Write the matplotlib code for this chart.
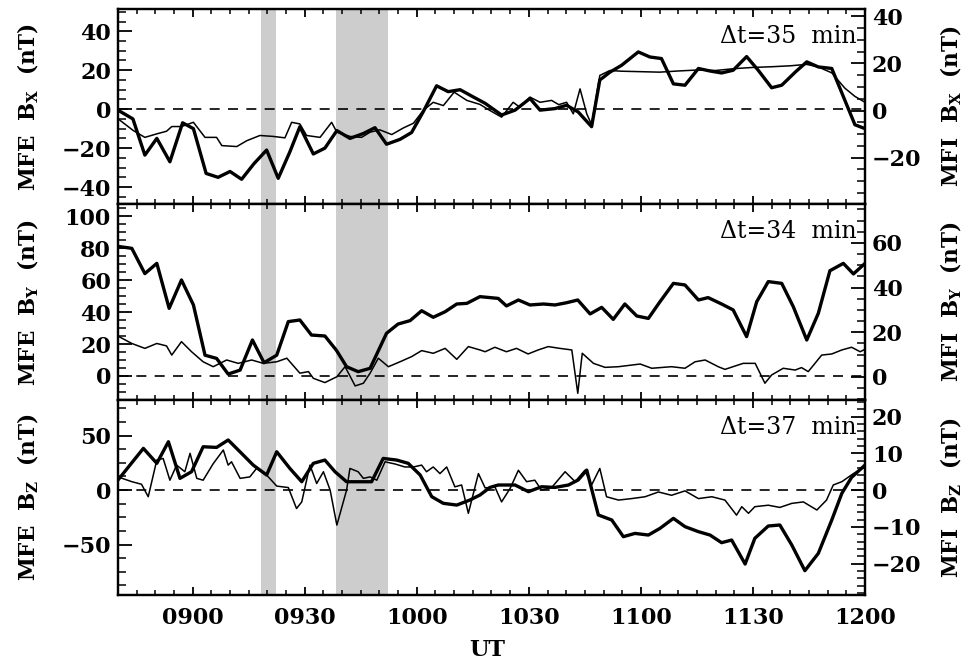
import matplotlib
matplotlib.use('Agg')
import matplotlib.pyplot as plt
import numpy as np
from matplotlib.ticker import MultipleLocator, FuncFormatter

plt.rcParams['font.family'] = 'DejaVu Serif'
plt.rcParams['mathtext.fontset'] = 'dejavuserif'

START = 520  # 08:40 UT in minutes
END = 720    # 12:00 UT

# minutes after 08:40 UT
bx_mfe_t = [0, 4, 7.2, 10.4, 13.9, 17.3, 20.2, 23.6, 26.8, 30, 33.1, 36.4, 39.8, 42.9, 46, 48.7,
            52.3, 55.4, 58.6, 62.1, 65.7, 68.8, 71.9, 75.5, 78.6, 81.7, 85.3, 88.4, 91.6, 95.1,
            98.3, 102.7, 106.3, 110.3, 113, 117, 120.1, 123.2, 126.8, 129, 131.7, 134.8, 139.3,
            142.4, 145.5, 148.7, 151.8, 155.4, 158.5, 161.6, 164.7, 168.3, 171.4, 175, 177.7,
            181.3, 184.4, 187.5, 191.1, 194.6, 197.3, 200]
bx_mfe = [-0.5, -5, -23.6, -15, -27, -7, -10, -33, -35, -32, -36, -28, -21, -35.5, -22, -9,
          -23, -20, -11, -15, -12.5, -9.5, -18, -15.5, -12, -1.4, 12, 9, 10, 6.3,
          3, -3, -0.5, 5.5, -0.5, 0.3, 2, -1.4, -9, 15, 19, 22.5, 29.4,
          26.8, 26, 13, 12.3, 20.9, 19.6, 18.6, 20, 27, 20, 11, 12.3,
          19, 24.3, 21.7, 20.9, 4.6, -8, -10]

bx_mfi_t = [0, 4.1, 7.2, 10.4, 13, 14.4, 17, 20.2, 23.3, 26.4, 27.8, 31.8, 34.5, 38, 41.6, 44.7,
            46.5, 48.7, 50.5, 54.1, 57.2, 58.6, 62.1, 65.2, 67.5, 70.1, 73.3, 76.4, 79.1, 81.7,
            84.4, 87.1, 90, 93.4, 96.9, 99.6, 102.7, 105.8, 107.6, 110.3, 113, 116.1, 118, 120.1,
            121.9, 123.7, 125.5, 126.8, 129, 131.7, 134.8, 140, 145, 150, 155, 160, 165, 170,
            175, 180, 184.4, 187.5, 191.1, 194.6, 197.3, 200]
bx_mfi = [-3.5, -8.5, -11.4, -9.9, -8.8, -6.8, -6.8, -5, -11.4, -11.4, -14.9, -15.3, -12.8, -10.6, -11, -11.6,
          -5, -5.7, -10.6, -11.4, -5, -9.2, -11, -11.4, -9.2, -8.2, -10.2, -7.4, -5.4, 0,
          3.5, 2.1, 7.8, 4.3, 2.6, 0, -2.8, 3.5, 1.4, 5.7, 3.5, 4.3, 2.5, 3.5,
          -1.4, 9.2, -1.4, -6, 14.9, 17, 16.7, 16.5, 16.3, 16.8, 17.2, 17, 17.8, 18.3,
          18.6, 19, 19.6, 18.5, 16, 9.5, 6, 3.5]

by_mfe_t = [0, 3.7, 7.2, 10.4, 13.7, 17, 20.2, 23.3, 26.4, 29.5, 32.7, 36, 39.1, 42.5, 45.6, 48.7,
            51.8, 55.4, 58.5, 61.2, 64.3, 67.5, 71.9, 75, 78.2, 81.3, 84.4, 87.6, 90.7, 93.4,
            96.9, 99.6, 101.8, 104, 107.2, 110.3, 113.9, 117, 120.1, 123.1, 126.4, 129.5, 132.6,
            135.7, 138.9, 142, 145.1, 148.7, 151.8, 155.4, 158, 161.6, 164.7, 168.3, 171, 174.1,
            177.7, 180.8, 184.4, 187.5, 190.6, 194.2, 196.9, 200]
by_mfe = [81, 79.8, 64, 70.4, 42.3, 60, 44.4, 13, 11, 1.2, 3.7, 22.5, 8.3, 13, 34, 35,
          25.6, 25, 16, 5.8, 2.7, 4.8, 26.7, 32.5, 34.6, 40.8, 36.7, 40.2, 45, 45.4,
          49.6, 49, 48.5, 43.8, 47.5, 44.4, 45, 44.4, 45.8, 47.5, 38.8, 42.9, 35.4,
          45, 37.5, 36, 46.4, 57.9, 56.9, 47.5, 49, 45, 41.3, 24.6, 46.4, 59,
          57.9, 43.3, 22.5, 39.2, 65.8, 70.4, 63.8, 70.4]

by_mfi_t = [0, 3.7, 7.2, 10.4, 13, 14.4, 17, 19.7, 22.8, 25.5, 29.1, 32.2, 35.8, 38.9, 42.5, 45.2,
            48.7, 51, 52.3, 55.4, 58.6, 60.8, 63.5, 65.7, 67.5, 69.7, 72.4, 75.5, 78.6, 81.3,
            84.4, 87.6, 90.7, 93.8, 96.9, 98.3, 100.9, 104, 106.7, 109.8, 112.5, 115.2, 118.3,
            121.5, 123.1, 124.3, 127.3, 130.4, 134, 139.8, 142.9, 148.2, 151.8, 154.5, 157.2,
            160.7, 162.5, 165.2, 167.4, 170.6, 173.2, 175, 178.1, 181.3, 183, 184.8, 188.4,
            191.1, 193.8, 196.4, 198.7, 200]
by_mfi = [18.3, 15, 12.8, 15, 13.9, 9.8, 15.8, 11.3, 6.8, 4.6, 7.6, 6.1, 7.6, 6.1, 6.8, 8.4,
          1.7, 2.4, -0.6, -2.5, 0.1, 4.6, -4, -2.8, 1.7, 8.4, 4.6, 6.8, 9.1, 11.8,
          10.6, 12.8, 7.9, 13.6, 12.1, 11.3, 13.3, 11.3, 12.8, 10.3, 12.1, 13.6, 12.8,
          12.1, -7.3, 10.6, 6.1, 4.3, 4.6, 5.8, 3.9, 4.6, 3.9, 6.8, 7.6,
          4.6, 3.4, 4.9, 6.1, 6.1, -2.8, 0.9, 3.9, 3.1, 4.2, 2.4, 9.8,
          10.3, 12.1, 13.3, 11.3, 12.4]

bz_mfe_t = [0, 6.8, 10.4, 13.5, 16.6, 19.7, 22.8, 26.4, 29.5, 33.1, 36.2, 39.8, 42.5, 46, 49.2,
            52.3, 55.4, 58.1, 61.2, 64.8, 67.9, 71, 74.6, 77.7, 80.9, 84, 87.1, 90.7, 94.2, 96.9,
            99.6, 101.8, 106.3, 109.9, 113.4, 117, 120.6, 123.2, 125.5, 128.6, 132.2, 135.3,
            138.4, 142, 145.1, 148.7, 151.8, 155.4, 158.5, 161.6, 164.3, 167.9, 170.5, 174.1,
            177.2, 180.4, 183.9, 187.5, 191.1, 193.8, 196.4, 200]
bz_mfe = [9.2, 38.2, 24.5, 44.3, 10.7, 16.8, 39.7, 39.1, 45.9, 33.6, 22.9, 13.8, 35.1, 19.9, 7.6,
          24.5, 27.5, 16.8, 7.6, 7.6, 7.6, 29, 27.5, 24.5, 13.8, -6.1, -12.2, -13.8, -9.2, -4.6,
          2.4, 4.6, 4.6, -1.5, 3, 2.4, 4.6, 9.2, 18.3, -22.9, -27.5, -42.8,
          -39.8, -41.3, -35.2, -26, -33.6, -38.2, -41.3, -48.3, -45.9, -67.9, -44.3, -33,
          -32.1, -50.5, -74, -58.1, -27.5, -3, 11.6, 22.9]

bz_mfi_t = [0, 3.7, 6.3, 8.1, 10.4, 12.1, 13.9, 15.7, 17.9, 19.3, 21.1, 22.8, 25.5, 28.2, 29.5,
            30.4, 32.7, 35.3, 37.1, 39.8, 42.5, 45.6, 47.8, 49.2, 51.4, 53.2, 55, 56.8, 58.6,
            61.2, 62.1, 64.3, 65.7, 67.5, 69.3, 71.5, 74.2, 76.8, 79.1, 81.3, 82.6, 84.4, 86.2,
            88, 90.2, 92, 93.8, 96.5, 98.3, 100.9, 102.7, 105, 107.2, 109.4, 111.6, 113.4,
            116.1, 119.7, 122.4, 125, 126.8, 129, 130.8, 134, 137.5, 141.1, 144.7, 148.2,
            151.8, 155.4, 159, 162.5, 165.6, 167, 168.8, 170.5, 174.1, 177.2, 180.4, 183.5,
            187.1, 189.7, 191.5, 193.8, 196.9, 200]
bz_mfi = [3.6, 2.3, 1.6, -1.8, 8.2, 8.6, 2.7, 6.8, 5, 10, 3.2, 2.7, 7.2, 10.9, 6.8,
          7.7, 3.2, 3.6, 5.9, 4.1, 1.1, 0.7, -5, -3.2, 6.8, 1.8, 5, 0, -9.5,
          0, 5.9, 5, 3.2, 3.6, 2.7, 7.7, 7.1, 6.3, 6.3, 6.8, 5, 6.3, 4.5,
          6.3, 0.9, 1.4, -6.3, 4.5, 0.6, 0.9, -3.2, 0.5, 5.4, 2.3, 2.7, 0,
          0.7, 5, 2.3, 5.4, 1.4, 5.9, -1.8, -2.7, -2.3, -1.8, -0.5, -1.4,
          -0.2, -2.3, -1.8, -2.7, -6.8, -4.5, -6.3, -4.5, -4.1, -4.7, -3.6, -3.2,
          -5.4, -2.7, 1.4, 2.3, 4.5, 6.3]

# shaded intervals, minutes after 08:40
shade_start = [38.3, 58.5]
shade_end = [42.4, 72.4]

components = ['X', 'Y', 'Z']
delays = [35, 34, 37]


def hhmm(m, pos=None):
    m = int(round(m))
    return f"{m // 60:02d}{m % 60:02d}"


def draw_panel(fig, rect, t1, v1, t2, v2, comp, delay, ylim1, ylim2,
               major1, minor1, major2, minor2, last):
    ax = fig.add_axes(rect)
    for s, e in zip(shade_start, shade_end):
        ax.axvspan(START + s, START + e, color='#cdcdcd', lw=0, zorder=0)
    ax.axhline(0, color='black', lw=1.2, ls=(0, (6, 5)), zorder=1)
    ax.plot(START + np.array(t1), v1, color='black', lw=2.4, zorder=3)
    ax.set_xlim(START, END)
    ax.set_ylim(*ylim1)
    ax.xaxis.set_major_locator(MultipleLocator(30))
    ax.xaxis.set_minor_locator(MultipleLocator(5))
    ax.yaxis.set_major_locator(MultipleLocator(major1))
    ax.yaxis.set_minor_locator(MultipleLocator(minor1))
    ax.tick_params(axis='x', which='both', direction='in', top=True, bottom=True)
    ax.tick_params(axis='x', which='major', length=6, width=1.3)
    ax.tick_params(axis='x', which='minor', length=3.5, width=1.1)
    ax.tick_params(axis='y', which='both', direction='in', right=False)
    ax.tick_params(axis='y', which='major', length=10, width=1.3, pad=5)
    ax.tick_params(axis='y', which='minor', length=5.5, width=1.1)
    ax.tick_params(labelsize=16)
    if last:
        ax.xaxis.set_major_formatter(FuncFormatter(hhmm))
        ax.tick_params(axis='x', pad=9)
    else:
        ax.tick_params(axis='x', labelbottom=False)
    for lab in ax.get_xticklabels() + ax.get_yticklabels():
        lab.set_fontweight('bold')
    for sp in ax.spines.values():
        sp.set_linewidth(1.6)

    ax2 = ax.twinx()
    ax2.plot(START + np.array(t2), v2, color='black', lw=1.1, zorder=2)
    ax2.set_ylim(*ylim2)
    ax2.yaxis.set_major_locator(MultipleLocator(major2))
    ax2.yaxis.set_minor_locator(MultipleLocator(minor2))
    ax2.tick_params(axis='y', which='both', direction='in')
    ax2.tick_params(axis='y', which='major', length=10, width=1.3, pad=5, labelsize=16)
    ax2.tick_params(axis='y', which='minor', length=5.5, width=1.1)
    for lab in ax2.get_yticklabels():
        lab.set_fontweight('bold')
    for sp in ax2.spines.values():
        sp.set_linewidth(1.6)

    ax.text(0.989, 0.86, '\u0394t=%d  min' % delay, transform=ax.transAxes,
            ha='right', va='center', fontsize=17, zorder=5)

    yc = rect[1] + rect[3] / 2
    fig.text(0.029, yc, 'MFE  B$_{\\mathbf{%s}}$  (nT)' % comp, rotation=90,
             ha='center', va='center', fontsize=15.5, fontweight='bold')
    fig.text(0.976, yc, 'MFI  B$_{\\mathbf{%s}}$  (nT)' % comp, rotation=90,
             ha='center', va='center', fontsize=15.5, fontweight='bold')
    return ax


def main():
    fig = plt.figure(figsize=(9.75, 6.68), dpi=100)
    left, width = 0.121, 0.7662
    draw_panel(fig, [left, 0.6946, width, 0.2915], bx_mfe_t, bx_mfe, bx_mfi_t, bx_mfi,
               components[0], delays[0], (-48.7, 51.3), (-39.7, 43), 20, 5, 20, 5, False)
    draw_panel(fig, [left, 0.4012, width, 0.2934], by_mfe_t, by_mfe, by_mfi_t, by_mfi,
               components[1], delays[1], (-15, 107.5), (-10.3, 77.4), 20, 5, 20, 5, False)
    draw_panel(fig, [left, 0.1093, width, 0.2919], bz_mfe_t, bz_mfe, bz_mfi_t, bz_mfi,
               components[2], delays[2], (-96.3, 82.6), (-28.5, 24.5), 50, 12.5, 10, 2, True)
    fig.text(0.5, 0.027, 'UT', ha='center', va='center', fontsize=16, fontweight='bold')
    fig.savefig('out.png', dpi=100)


if __name__ == "__main__":
    main()
